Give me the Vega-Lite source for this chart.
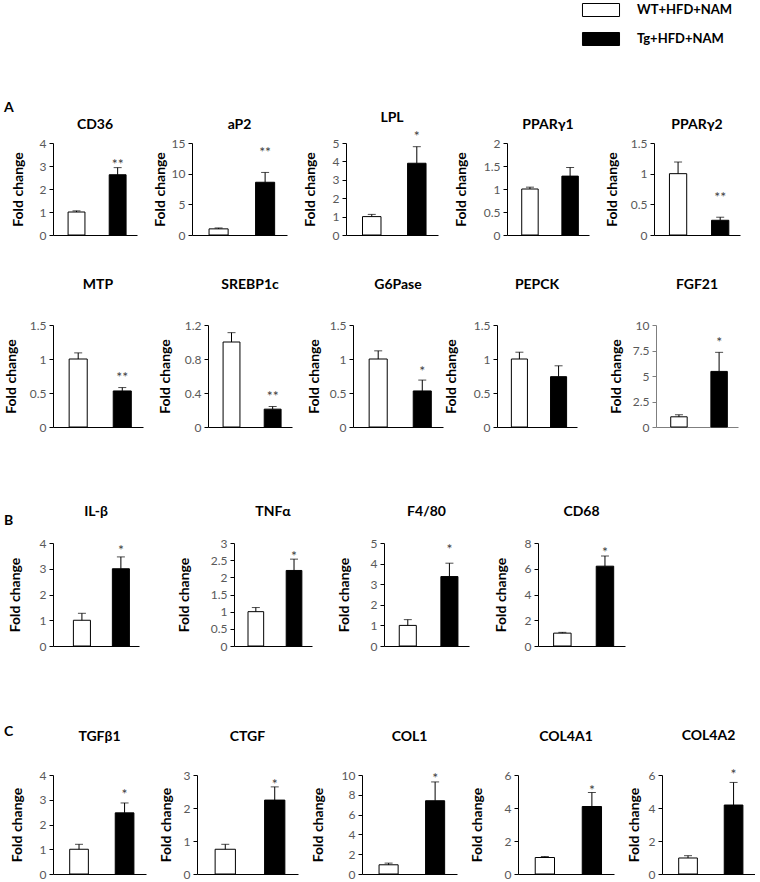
{
  "$schema": "https://vega.github.io/schema/vega-lite/v6.json",
  "background": "white",
  "padding": {"left": 3, "top": 3, "right": 0, "bottom": 0},
  "autosize": {"type": "pad"},
  "data": {"values": [
    {"p": "CD36", "g": "WT+HFD+NAM", "mean": 1.0, "upper": 1.05},
    {"p": "CD36", "g": "Tg+HFD+NAM", "mean": 2.62, "upper": 2.93, "star": "**", "star_y": 3.2},
    {"p": "aP2", "g": "WT+HFD+NAM", "mean": 1.0, "upper": 1.15},
    {"p": "aP2", "g": "Tg+HFD+NAM", "mean": 8.6, "upper": 10.2, "star": "**", "star_y": 14.0},
    {"p": "LPL", "g": "WT+HFD+NAM", "mean": 1.0, "upper": 1.12},
    {"p": "LPL", "g": "Tg+HFD+NAM", "mean": 3.9, "upper": 4.8, "star": "*", "star_y": 5.55},
    {"p": "PPARγ1", "g": "WT+HFD+NAM", "mean": 1.0, "upper": 1.04},
    {"p": "PPARγ1", "g": "Tg+HFD+NAM", "mean": 1.28, "upper": 1.47},
    {"p": "PPARγ2", "g": "WT+HFD+NAM", "mean": 1.0, "upper": 1.19},
    {"p": "PPARγ2", "g": "Tg+HFD+NAM", "mean": 0.24, "upper": 0.29, "star": "**", "star_y": 0.67},
    {"p": "MTP", "g": "WT+HFD+NAM", "mean": 1.0, "upper": 1.09},
    {"p": "MTP", "g": "Tg+HFD+NAM", "mean": 0.53, "upper": 0.58, "star": "**", "star_y": 0.78},
    {"p": "SREBP1c", "g": "WT+HFD+NAM", "mean": 1.0, "upper": 1.11},
    {"p": "SREBP1c", "g": "Tg+HFD+NAM", "mean": 0.21, "upper": 0.24, "star": "**", "star_y": 0.4},
    {"p": "G6Pase", "g": "WT+HFD+NAM", "mean": 1.0, "upper": 1.12},
    {"p": "G6Pase", "g": "Tg+HFD+NAM", "mean": 0.53, "upper": 0.69, "star": "*", "star_y": 0.87},
    {"p": "PEPCK", "g": "WT+HFD+NAM", "mean": 1.0, "upper": 1.1},
    {"p": "PEPCK", "g": "Tg+HFD+NAM", "mean": 0.74, "upper": 0.9},
    {"p": "FGF21", "g": "WT+HFD+NAM", "mean": 1.0, "upper": 1.2},
    {"p": "FGF21", "g": "Tg+HFD+NAM", "mean": 5.45, "upper": 7.32, "star": "*", "star_y": 8.67},
    {"p": "IL-β", "g": "WT+HFD+NAM", "mean": 1.0, "upper": 1.27},
    {"p": "IL-β", "g": "Tg+HFD+NAM", "mean": 3.0, "upper": 3.46, "star": "*", "star_y": 3.85},
    {"p": "TNFα", "g": "WT+HFD+NAM", "mean": 1.0, "upper": 1.12},
    {"p": "TNFα", "g": "Tg+HFD+NAM", "mean": 2.2, "upper": 2.53, "star": "*", "star_y": 2.72},
    {"p": "F4/80", "g": "WT+HFD+NAM", "mean": 1.0, "upper": 1.28},
    {"p": "F4/80", "g": "Tg+HFD+NAM", "mean": 3.37, "upper": 4.02, "star": "*", "star_y": 4.84},
    {"p": "CD68", "g": "WT+HFD+NAM", "mean": 1.0, "upper": 1.06},
    {"p": "CD68", "g": "Tg+HFD+NAM", "mean": 6.2, "upper": 6.99, "star": "*", "star_y": 7.5},
    {"p": "TGFβ1", "g": "WT+HFD+NAM", "mean": 1.0, "upper": 1.2},
    {"p": "TGFβ1", "g": "Tg+HFD+NAM", "mean": 2.47, "upper": 2.87, "star": "*", "star_y": 3.36},
    {"p": "CTGF", "g": "WT+HFD+NAM", "mean": 0.75, "upper": 0.9},
    {"p": "CTGF", "g": "Tg+HFD+NAM", "mean": 2.24, "upper": 2.64, "star": "*", "star_y": 2.81},
    {"p": "COL1", "g": "WT+HFD+NAM", "mean": 0.93, "upper": 1.1},
    {"p": "COL1", "g": "Tg+HFD+NAM", "mean": 7.4, "upper": 9.3, "star": "*", "star_y": 10.0},
    {"p": "COL4A1", "g": "WT+HFD+NAM", "mean": 1.0, "upper": 1.06},
    {"p": "COL4A1", "g": "Tg+HFD+NAM", "mean": 4.09, "upper": 4.94, "star": "*", "star_y": 5.3},
    {"p": "COL4A2", "g": "WT+HFD+NAM", "mean": 0.97, "upper": 1.11},
    {"p": "COL4A2", "g": "Tg+HFD+NAM", "mean": 4.18, "upper": 5.55, "star": "*", "star_y": 6.25}
  ]},
  "spacing": 72,
  "vconcat": [
    {
      "spacing": 37,
      "vconcat": [
        {
          "title": {"text": "A", "anchor": "start", "frame": "bounds", "offset": 2, "dx": -7, "dy": 6, "fontSize": 14},
          "spacing": 16,
          "hconcat": [
            {"width": 84, "height": 92, "title": {"text": "CD36", "offset": 5},
             "transform": [{"filter": {"field": "p", "equal": "CD36"}}],
             "encoding": {"x": {"field": "g", "type": "nominal", "sort": null, "scale": {"domain": ["WT+HFD+NAM", "Tg+HFD+NAM"], "paddingInner": 0.59, "paddingOuter": 0.316, "align": 0.58}, "axis": {"title": null, "labels": false, "ticks": false}}},
             "layer": [
               {"mark": {"type": "bar", "stroke": "black", "strokeWidth": 1}, "encoding": {"y": {"field": "mean", "type": "quantitative", "scale": {"domain": [0, 4]}, "axis": {"title": "Fold change", "values": [0, 1, 2, 3, 4], "tickCount": 20, "format": "~r", "labelOverlap": false, "titleX": -28}}, "color": {"field": "g", "type": "nominal", "title": null, "scale": {"domain": ["WT+HFD+NAM", "Tg+HFD+NAM"], "range": ["white", "black"]}}}},
               {"mark": {"type": "rule", "color": "black"}, "encoding": {"y": {"field": "mean", "type": "quantitative", "scale": {"domain": [0, 4]}}, "y2": {"field": "upper"}}},
               {"mark": {"type": "tick", "color": "black", "size": 8, "thickness": 1}, "encoding": {"y": {"field": "upper", "type": "quantitative", "scale": {"domain": [0, 4]}}}},
               {"transform": [{"filter": "datum.star"}], "mark": {"type": "text", "fontSize": 14, "color": "#404040", "dy": 4}, "encoding": {"y": {"field": "star_y", "type": "quantitative", "scale": {"domain": [0, 4]}}, "text": {"field": "star"}}}
             ]},
            {"width": 95, "height": 92, "title": {"text": "aP2", "offset": 5},
             "transform": [{"filter": {"field": "p", "equal": "aP2"}}],
             "encoding": {"x": {"field": "g", "type": "nominal", "sort": null, "scale": {"domain": ["WT+HFD+NAM", "Tg+HFD+NAM"], "paddingInner": 0.59, "paddingOuter": 0.316, "align": 0.58}, "axis": {"title": null, "labels": false, "ticks": false}}},
             "layer": [
               {"mark": {"type": "bar", "stroke": "black", "strokeWidth": 1}, "encoding": {"y": {"field": "mean", "type": "quantitative", "scale": {"domain": [0, 15]}, "axis": {"title": "Fold change", "values": [0, 5, 10, 15], "tickCount": 20, "format": "~r", "labelOverlap": false, "titleX": -25}}, "color": {"field": "g", "type": "nominal", "title": null, "scale": {"domain": ["WT+HFD+NAM", "Tg+HFD+NAM"], "range": ["white", "black"]}}}},
               {"mark": {"type": "rule", "color": "black"}, "encoding": {"y": {"field": "mean", "type": "quantitative", "scale": {"domain": [0, 15]}}, "y2": {"field": "upper"}}},
               {"mark": {"type": "tick", "color": "black", "size": 8, "thickness": 1}, "encoding": {"y": {"field": "upper", "type": "quantitative", "scale": {"domain": [0, 15]}}}},
               {"transform": [{"filter": "datum.star"}], "mark": {"type": "text", "fontSize": 14, "color": "#404040", "dy": 4}, "encoding": {"y": {"field": "star_y", "type": "quantitative", "scale": {"domain": [0, 15]}}, "text": {"field": "star"}}}
             ]},
            {"width": 92, "height": 92, "title": {"text": "LPL", "offset": 5},
             "transform": [{"filter": {"field": "p", "equal": "LPL"}}],
             "encoding": {"x": {"field": "g", "type": "nominal", "sort": null, "scale": {"domain": ["WT+HFD+NAM", "Tg+HFD+NAM"], "paddingInner": 0.59, "paddingOuter": 0.316, "align": 0.58}, "axis": {"title": null, "labels": false, "ticks": false}}},
             "layer": [
               {"mark": {"type": "bar", "stroke": "black", "strokeWidth": 1}, "encoding": {"y": {"field": "mean", "type": "quantitative", "scale": {"domain": [0, 5]}, "axis": {"title": "Fold change", "values": [0, 1, 2, 3, 4, 5], "tickCount": 20, "format": "~r", "labelOverlap": false, "titleX": -29}}, "color": {"field": "g", "type": "nominal", "title": null, "scale": {"domain": ["WT+HFD+NAM", "Tg+HFD+NAM"], "range": ["white", "black"]}}}},
               {"mark": {"type": "rule", "color": "black"}, "encoding": {"y": {"field": "mean", "type": "quantitative", "scale": {"domain": [0, 5]}}, "y2": {"field": "upper"}}},
               {"mark": {"type": "tick", "color": "black", "size": 8, "thickness": 1}, "encoding": {"y": {"field": "upper", "type": "quantitative", "scale": {"domain": [0, 5]}}}},
               {"transform": [{"filter": "datum.star"}], "mark": {"type": "text", "fontSize": 14, "color": "#404040", "dy": 4}, "encoding": {"y": {"field": "star_y", "type": "quantitative", "scale": {"domain": [0, 5]}}, "text": {"field": "star"}}}
             ]},
            {"width": 82, "height": 92, "title": {"text": "PPARγ1", "offset": 5},
             "transform": [{"filter": {"field": "p", "equal": "PPARγ1"}}],
             "encoding": {"x": {"field": "g", "type": "nominal", "sort": null, "scale": {"domain": ["WT+HFD+NAM", "Tg+HFD+NAM"], "paddingInner": 0.59, "paddingOuter": 0.316, "align": 0.58}, "axis": {"title": null, "labels": false, "ticks": false}}},
             "layer": [
               {"mark": {"type": "bar", "stroke": "black", "strokeWidth": 1}, "encoding": {"y": {"field": "mean", "type": "quantitative", "scale": {"domain": [0, 2]}, "axis": {"title": "Fold change", "values": [0, 0.5, 1, 1.5, 2], "tickCount": 20, "format": "~r", "labelOverlap": false, "titleX": -39}}, "color": {"field": "g", "type": "nominal", "title": null, "scale": {"domain": ["WT+HFD+NAM", "Tg+HFD+NAM"], "range": ["white", "black"]}}}},
               {"mark": {"type": "rule", "color": "black"}, "encoding": {"y": {"field": "mean", "type": "quantitative", "scale": {"domain": [0, 2]}}, "y2": {"field": "upper"}}},
               {"mark": {"type": "tick", "color": "black", "size": 8, "thickness": 1}, "encoding": {"y": {"field": "upper", "type": "quantitative", "scale": {"domain": [0, 2]}}}}
             ]},
            {"width": 86, "height": 92, "title": {"text": "PPARγ2", "offset": 5},
             "transform": [{"filter": {"field": "p", "equal": "PPARγ2"}}],
             "encoding": {"x": {"field": "g", "type": "nominal", "sort": null, "scale": {"domain": ["WT+HFD+NAM", "Tg+HFD+NAM"], "paddingInner": 0.59, "paddingOuter": 0.316, "align": 0.58}, "axis": {"title": null, "labels": false, "ticks": false}}},
             "layer": [
               {"mark": {"type": "bar", "stroke": "black", "strokeWidth": 1}, "encoding": {"y": {"field": "mean", "type": "quantitative", "scale": {"domain": [0, 1.5]}, "axis": {"title": "Fold change", "values": [0, 0.5, 1, 1.5], "tickCount": 20, "format": "~r", "labelOverlap": false, "titleX": -35}}, "color": {"field": "g", "type": "nominal", "title": null, "scale": {"domain": ["WT+HFD+NAM", "Tg+HFD+NAM"], "range": ["white", "black"]}}}},
               {"mark": {"type": "rule", "color": "black"}, "encoding": {"y": {"field": "mean", "type": "quantitative", "scale": {"domain": [0, 1.5]}}, "y2": {"field": "upper"}}},
               {"mark": {"type": "tick", "color": "black", "size": 8, "thickness": 1}, "encoding": {"y": {"field": "upper", "type": "quantitative", "scale": {"domain": [0, 1.5]}}}},
               {"transform": [{"filter": "datum.star"}], "mark": {"type": "text", "fontSize": 14, "color": "#404040", "dy": 4}, "encoding": {"y": {"field": "star_y", "type": "quantitative", "scale": {"domain": [0, 1.5]}}, "text": {"field": "star"}}}
             ]}
          ]
        },
        {
          "spacing": 0,
          "hconcat": [
            {"spacing": 14, "hconcat": [
              {"width": 90, "height": 102, "title": {"text": "MTP", "offset": 27},
               "transform": [{"filter": {"field": "p", "equal": "MTP"}}],
               "encoding": {"x": {"field": "g", "type": "nominal", "sort": null, "scale": {"domain": ["WT+HFD+NAM", "Tg+HFD+NAM"], "paddingInner": 0.59, "paddingOuter": 0.316, "align": 0.58}, "axis": {"title": null, "labels": false, "ticks": false}}},
               "layer": [
                 {"mark": {"type": "bar", "stroke": "black", "strokeWidth": 1}, "encoding": {"y": {"field": "mean", "type": "quantitative", "scale": {"domain": [0, 1.5]}, "axis": {"title": "Fold change", "values": [0, 0.5, 1, 1.5], "tickCount": 20, "format": "~r", "labelOverlap": false, "titleX": -35}}, "color": {"field": "g", "type": "nominal", "title": null, "scale": {"domain": ["WT+HFD+NAM", "Tg+HFD+NAM"], "range": ["white", "black"]}}}},
                 {"mark": {"type": "rule", "color": "black"}, "encoding": {"y": {"field": "mean", "type": "quantitative", "scale": {"domain": [0, 1.5]}}, "y2": {"field": "upper"}}},
                 {"mark": {"type": "tick", "color": "black", "size": 8, "thickness": 1}, "encoding": {"y": {"field": "upper", "type": "quantitative", "scale": {"domain": [0, 1.5]}}}},
                 {"transform": [{"filter": "datum.star"}], "mark": {"type": "text", "fontSize": 14, "color": "#404040", "dy": 4}, "encoding": {"y": {"field": "star_y", "type": "quantitative", "scale": {"domain": [0, 1.5]}}, "text": {"field": "star"}}}
               ]},
              {"width": 84, "height": 102, "title": {"text": "SREBP1c", "offset": 27},
               "transform": [{"filter": {"field": "p", "equal": "SREBP1c"}}],
               "encoding": {"x": {"field": "g", "type": "nominal", "sort": null, "scale": {"domain": ["WT+HFD+NAM", "Tg+HFD+NAM"], "paddingInner": 0.59, "paddingOuter": 0.316, "align": 0.58}, "axis": {"title": null, "labels": false, "ticks": false}}},
               "layer": [
                 {"mark": {"type": "bar", "stroke": "black", "strokeWidth": 1}, "encoding": {"y": {"field": "mean", "type": "quantitative", "scale": {"domain": [0, 1.2]}, "axis": {"title": "Fold change", "values": [0, 0.4, 0.8, 1.2], "tickCount": 20, "format": "~r", "labelOverlap": false, "titleX": -36}}, "color": {"field": "g", "type": "nominal", "title": null, "scale": {"domain": ["WT+HFD+NAM", "Tg+HFD+NAM"], "range": ["white", "black"]}}}},
                 {"mark": {"type": "rule", "color": "black"}, "encoding": {"y": {"field": "mean", "type": "quantitative", "scale": {"domain": [0, 1.2]}}, "y2": {"field": "upper"}}},
                 {"mark": {"type": "tick", "color": "black", "size": 8, "thickness": 1}, "encoding": {"y": {"field": "upper", "type": "quantitative", "scale": {"domain": [0, 1.2]}}}},
                 {"transform": [{"filter": "datum.star"}], "mark": {"type": "text", "fontSize": 14, "color": "#404040", "dy": 4}, "encoding": {"y": {"field": "star_y", "type": "quantitative", "scale": {"domain": [0, 1.2]}}, "text": {"field": "star"}}}
               ]},
              {"width": 90, "height": 102, "title": {"text": "G6Pase", "offset": 27},
               "transform": [{"filter": {"field": "p", "equal": "G6Pase"}}],
               "encoding": {"x": {"field": "g", "type": "nominal", "sort": null, "scale": {"domain": ["WT+HFD+NAM", "Tg+HFD+NAM"], "paddingInner": 0.59, "paddingOuter": 0.316, "align": 0.58}, "axis": {"title": null, "labels": false, "ticks": false}}},
               "layer": [
                 {"mark": {"type": "bar", "stroke": "black", "strokeWidth": 1}, "encoding": {"y": {"field": "mean", "type": "quantitative", "scale": {"domain": [0, 1.5]}, "axis": {"title": "Fold change", "values": [0, 0.5, 1, 1.5], "tickCount": 20, "format": "~r", "labelOverlap": false, "titleX": -32}}, "color": {"field": "g", "type": "nominal", "title": null, "scale": {"domain": ["WT+HFD+NAM", "Tg+HFD+NAM"], "range": ["white", "black"]}}}},
                 {"mark": {"type": "rule", "color": "black"}, "encoding": {"y": {"field": "mean", "type": "quantitative", "scale": {"domain": [0, 1.5]}}, "y2": {"field": "upper"}}},
                 {"mark": {"type": "tick", "color": "black", "size": 8, "thickness": 1}, "encoding": {"y": {"field": "upper", "type": "quantitative", "scale": {"domain": [0, 1.5]}}}},
                 {"transform": [{"filter": "datum.star"}], "mark": {"type": "text", "fontSize": 14, "color": "#404040", "dy": 4}, "encoding": {"y": {"field": "star_y", "type": "quantitative", "scale": {"domain": [0, 1.5]}}, "text": {"field": "star"}}}
               ]}
            ]},
            {"spacing": 31, "hconcat": [
              {"width": 80, "height": 102, "title": {"text": "PEPCK", "offset": 27},
               "transform": [{"filter": {"field": "p", "equal": "PEPCK"}}],
               "encoding": {"x": {"field": "g", "type": "nominal", "sort": null, "scale": {"domain": ["WT+HFD+NAM", "Tg+HFD+NAM"], "paddingInner": 0.59, "paddingOuter": 0.316, "align": 0.58}, "axis": {"title": null, "labels": false, "ticks": false}}},
               "layer": [
                 {"mark": {"type": "bar", "stroke": "black", "strokeWidth": 1}, "encoding": {"y": {"field": "mean", "type": "quantitative", "scale": {"domain": [0, 1.5]}, "axis": {"title": "Fold change", "values": [0, 0.5, 1, 1.5], "tickCount": 20, "format": "~r", "labelOverlap": false, "titleX": -39}}, "color": {"field": "g", "type": "nominal", "title": null, "scale": {"domain": ["WT+HFD+NAM", "Tg+HFD+NAM"], "range": ["white", "black"]}}}},
                 {"mark": {"type": "rule", "color": "black"}, "encoding": {"y": {"field": "mean", "type": "quantitative", "scale": {"domain": [0, 1.5]}}, "y2": {"field": "upper"}}},
                 {"mark": {"type": "tick", "color": "black", "size": 8, "thickness": 1}, "encoding": {"y": {"field": "upper", "type": "quantitative", "scale": {"domain": [0, 1.5]}}}}
               ]},
              {"width": 82, "height": 102, "title": {"text": "FGF21", "offset": 27},
               "transform": [{"filter": {"field": "p", "equal": "FGF21"}}],
               "encoding": {"x": {"field": "g", "type": "nominal", "sort": null, "scale": {"domain": ["WT+HFD+NAM", "Tg+HFD+NAM"], "paddingInner": 0.59, "paddingOuter": 0.316, "align": 0.58}, "axis": {"title": null, "labels": false, "ticks": false, "domainColor": "#7f7f7f"}}},
               "layer": [
                 {"mark": {"type": "bar", "stroke": "black", "strokeWidth": 1}, "encoding": {"y": {"field": "mean", "type": "quantitative", "scale": {"domain": [0, 10]}, "axis": {"title": "Fold change", "values": [0, 2.5, 5, 7.5, 10], "tickCount": 20, "format": "~r", "labelOverlap": false, "titleX": -33, "domainColor": "#7f7f7f", "tickColor": "#7f7f7f"}}, "color": {"field": "g", "type": "nominal", "title": null, "scale": {"domain": ["WT+HFD+NAM", "Tg+HFD+NAM"], "range": ["white", "black"]}}}},
                 {"mark": {"type": "rule", "color": "black"}, "encoding": {"y": {"field": "mean", "type": "quantitative", "scale": {"domain": [0, 10]}}, "y2": {"field": "upper"}}},
                 {"mark": {"type": "tick", "color": "black", "size": 8, "thickness": 1}, "encoding": {"y": {"field": "upper", "type": "quantitative", "scale": {"domain": [0, 10]}}}},
                 {"transform": [{"filter": "datum.star"}], "mark": {"type": "text", "fontSize": 14, "color": "#404040", "dy": 4}, "encoding": {"y": {"field": "star_y", "type": "quantitative", "scale": {"domain": [0, 10]}}, "text": {"field": "star"}}}
               ]}
            ]}
          ]
        }
      ]
    },
    {
      "spacing": 72,
      "vconcat": [
        {
          "title": {"text": "B", "anchor": "start", "frame": "bounds", "offset": 0, "dx": -4, "dy": 23, "fontSize": 14},
          "spacing": 37,
          "hconcat": [
            {"width": 86, "height": 103, "title": {"text": "IL-β", "offset": 18},
             "transform": [{"filter": {"field": "p", "equal": "IL-β"}}],
             "encoding": {"x": {"field": "g", "type": "nominal", "sort": null, "scale": {"domain": ["WT+HFD+NAM", "Tg+HFD+NAM"], "paddingInner": 0.563, "paddingOuter": 0.385, "align": 0.68}, "axis": {"title": null, "labels": false, "ticks": false}}},
             "layer": [
               {"mark": {"type": "bar", "stroke": "black", "strokeWidth": 1}, "encoding": {"y": {"field": "mean", "type": "quantitative", "scale": {"domain": [0, 4]}, "axis": {"title": "Fold change", "values": [0, 1, 2, 3, 4], "tickCount": 20, "format": "~r", "labelOverlap": false, "titleX": -31}}, "color": {"field": "g", "type": "nominal", "title": null, "scale": {"domain": ["WT+HFD+NAM", "Tg+HFD+NAM"], "range": ["white", "black"]}}}},
               {"mark": {"type": "rule", "color": "black"}, "encoding": {"y": {"field": "mean", "type": "quantitative", "scale": {"domain": [0, 4]}}, "y2": {"field": "upper"}}},
               {"mark": {"type": "tick", "color": "black", "size": 8, "thickness": 1}, "encoding": {"y": {"field": "upper", "type": "quantitative", "scale": {"domain": [0, 4]}}}},
               {"transform": [{"filter": "datum.star"}], "mark": {"type": "text", "fontSize": 14, "color": "#404040", "dy": 4}, "encoding": {"y": {"field": "star_y", "type": "quantitative", "scale": {"domain": [0, 4]}}, "text": {"field": "star"}}}
             ]},
            {"spacing": 24, "hconcat": [
              {"width": 78, "height": 103, "title": {"text": "TNFα", "offset": 18},
               "transform": [{"filter": {"field": "p", "equal": "TNFα"}}],
               "encoding": {"x": {"field": "g", "type": "nominal", "sort": null, "scale": {"domain": ["WT+HFD+NAM", "Tg+HFD+NAM"], "paddingInner": 0.59, "paddingOuter": 0.316, "align": 0.58}, "axis": {"title": null, "labels": false, "ticks": false}}},
               "layer": [
                 {"mark": {"type": "bar", "stroke": "black", "strokeWidth": 1}, "encoding": {"y": {"field": "mean", "type": "quantitative", "scale": {"domain": [0, 3]}, "axis": {"title": "Fold change", "values": [0, 0.5, 1, 1.5, 2, 2.5, 3], "tickCount": 20, "format": "~r", "labelOverlap": false, "titleX": -43}}, "color": {"field": "g", "type": "nominal", "title": null, "scale": {"domain": ["WT+HFD+NAM", "Tg+HFD+NAM"], "range": ["white", "black"]}}}},
                 {"mark": {"type": "rule", "color": "black"}, "encoding": {"y": {"field": "mean", "type": "quantitative", "scale": {"domain": [0, 3]}}, "y2": {"field": "upper"}}},
                 {"mark": {"type": "tick", "color": "black", "size": 8, "thickness": 1}, "encoding": {"y": {"field": "upper", "type": "quantitative", "scale": {"domain": [0, 3]}}}},
                 {"transform": [{"filter": "datum.star"}], "mark": {"type": "text", "fontSize": 14, "color": "#404040", "dy": 4}, "encoding": {"y": {"field": "star_y", "type": "quantitative", "scale": {"domain": [0, 3]}}, "text": {"field": "star"}}}
               ]},
              {"width": 85, "height": 103, "title": {"text": "F4/80", "offset": 18},
               "transform": [{"filter": {"field": "p", "equal": "F4/80"}}],
               "encoding": {"x": {"field": "g", "type": "nominal", "sort": null, "scale": {"domain": ["WT+HFD+NAM", "Tg+HFD+NAM"], "paddingInner": 0.59, "paddingOuter": 0.316, "align": 0.58}, "axis": {"title": null, "labels": false, "ticks": false}}},
               "layer": [
                 {"mark": {"type": "bar", "stroke": "black", "strokeWidth": 1}, "encoding": {"y": {"field": "mean", "type": "quantitative", "scale": {"domain": [0, 5]}, "axis": {"title": "Fold change", "values": [0, 1, 2, 3, 4, 5], "tickCount": 20, "format": "~r", "labelOverlap": false, "titleX": -33}}, "color": {"field": "g", "type": "nominal", "title": null, "scale": {"domain": ["WT+HFD+NAM", "Tg+HFD+NAM"], "range": ["white", "black"]}}}},
                 {"mark": {"type": "rule", "color": "black"}, "encoding": {"y": {"field": "mean", "type": "quantitative", "scale": {"domain": [0, 5]}}, "y2": {"field": "upper"}}},
                 {"mark": {"type": "tick", "color": "black", "size": 8, "thickness": 1}, "encoding": {"y": {"field": "upper", "type": "quantitative", "scale": {"domain": [0, 5]}}}},
                 {"transform": [{"filter": "datum.star"}], "mark": {"type": "text", "fontSize": 14, "color": "#404040", "dy": 4}, "encoding": {"y": {"field": "star_y", "type": "quantitative", "scale": {"domain": [0, 5]}}, "text": {"field": "star"}}}
               ]},
              {"width": 87, "height": 103, "title": {"text": "CD68", "offset": 18},
               "transform": [{"filter": {"field": "p", "equal": "CD68"}}],
               "encoding": {"x": {"field": "g", "type": "nominal", "sort": null, "scale": {"domain": ["WT+HFD+NAM", "Tg+HFD+NAM"], "paddingInner": 0.59, "paddingOuter": 0.316, "align": 0.58}, "axis": {"title": null, "labels": false, "ticks": false}}},
               "layer": [
                 {"mark": {"type": "bar", "stroke": "black", "strokeWidth": 1}, "encoding": {"y": {"field": "mean", "type": "quantitative", "scale": {"domain": [0, 8]}, "axis": {"title": "Fold change", "values": [0, 2, 4, 6, 8], "tickCount": 20, "format": "~r", "labelOverlap": false, "titleX": -30}}, "color": {"field": "g", "type": "nominal", "title": null, "scale": {"domain": ["WT+HFD+NAM", "Tg+HFD+NAM"], "range": ["white", "black"]}}}},
                 {"mark": {"type": "rule", "color": "black"}, "encoding": {"y": {"field": "mean", "type": "quantitative", "scale": {"domain": [0, 8]}}, "y2": {"field": "upper"}}},
                 {"mark": {"type": "tick", "color": "black", "size": 8, "thickness": 1}, "encoding": {"y": {"field": "upper", "type": "quantitative", "scale": {"domain": [0, 8]}}}},
                 {"transform": [{"filter": "datum.star"}], "mark": {"type": "text", "fontSize": 14, "color": "#404040", "dy": 4}, "encoding": {"y": {"field": "star_y", "type": "quantitative", "scale": {"domain": [0, 8]}}, "text": {"field": "star"}}}
               ]}
            ]}
          ]
        },
        {
          "title": {"text": "C", "anchor": "start", "frame": "bounds", "offset": 0, "dx": -6, "dy": 10, "fontSize": 14},
          "spacing": 12,
          "hconcat": [
            {"width": 93, "height": 99, "title": {"text": "TGFβ1", "offset": 25},
             "transform": [{"filter": {"field": "p", "equal": "TGFβ1"}}],
             "encoding": {"x": {"field": "g", "type": "nominal", "sort": null, "scale": {"domain": ["WT+HFD+NAM", "Tg+HFD+NAM"], "paddingInner": 0.59, "paddingOuter": 0.316, "align": 0.58}, "axis": {"title": null, "labels": false, "ticks": false}}},
             "layer": [
               {"mark": {"type": "bar", "stroke": "black", "strokeWidth": 1}, "encoding": {"y": {"field": "mean", "type": "quantitative", "scale": {"domain": [0, 4]}, "axis": {"title": "Fold change", "values": [0, 1, 2, 3, 4], "tickCount": 20, "format": "~r", "labelOverlap": false, "titleX": -29}}, "color": {"field": "g", "type": "nominal", "title": null, "scale": {"domain": ["WT+HFD+NAM", "Tg+HFD+NAM"], "range": ["white", "black"]}}}},
               {"mark": {"type": "rule", "color": "black"}, "encoding": {"y": {"field": "mean", "type": "quantitative", "scale": {"domain": [0, 4]}}, "y2": {"field": "upper"}}},
               {"mark": {"type": "tick", "color": "black", "size": 8, "thickness": 1}, "encoding": {"y": {"field": "upper", "type": "quantitative", "scale": {"domain": [0, 4]}}}},
               {"transform": [{"filter": "datum.star"}], "mark": {"type": "text", "fontSize": 14, "color": "#404040", "dy": 4}, "encoding": {"y": {"field": "star_y", "type": "quantitative", "scale": {"domain": [0, 4]}}, "text": {"field": "star"}}}
             ]},
            {"width": 101, "height": 99, "title": {"text": "CTGF", "offset": 25},
             "transform": [{"filter": {"field": "p", "equal": "CTGF"}}],
             "encoding": {"x": {"field": "g", "type": "nominal", "sort": null, "scale": {"domain": ["WT+HFD+NAM", "Tg+HFD+NAM"], "paddingInner": 0.59, "paddingOuter": 0.316, "align": 0.58}, "axis": {"title": null, "labels": false, "ticks": false}}},
             "layer": [
               {"mark": {"type": "bar", "stroke": "black", "strokeWidth": 1}, "encoding": {"y": {"field": "mean", "type": "quantitative", "scale": {"domain": [0, 3]}, "axis": {"title": "Fold change", "values": [0, 1, 2, 3], "tickCount": 20, "format": "~r", "labelOverlap": false, "titleX": -24}}, "color": {"field": "g", "type": "nominal", "title": null, "scale": {"domain": ["WT+HFD+NAM", "Tg+HFD+NAM"], "range": ["white", "black"]}}}},
               {"mark": {"type": "rule", "color": "black"}, "encoding": {"y": {"field": "mean", "type": "quantitative", "scale": {"domain": [0, 3]}}, "y2": {"field": "upper"}}},
               {"mark": {"type": "tick", "color": "black", "size": 8, "thickness": 1}, "encoding": {"y": {"field": "upper", "type": "quantitative", "scale": {"domain": [0, 3]}}}},
               {"transform": [{"filter": "datum.star"}], "mark": {"type": "text", "fontSize": 14, "color": "#404040", "dy": 4}, "encoding": {"y": {"field": "star_y", "type": "quantitative", "scale": {"domain": [0, 3]}}, "text": {"field": "star"}}}
             ]},
            {"width": 95, "height": 99, "title": {"text": "COL1", "offset": 25},
             "transform": [{"filter": {"field": "p", "equal": "COL1"}}],
             "encoding": {"x": {"field": "g", "type": "nominal", "sort": null, "scale": {"domain": ["WT+HFD+NAM", "Tg+HFD+NAM"], "paddingInner": 0.59, "paddingOuter": 0.316, "align": 0.58}, "axis": {"title": null, "labels": false, "ticks": false}}},
             "layer": [
               {"mark": {"type": "bar", "stroke": "black", "strokeWidth": 1}, "encoding": {"y": {"field": "mean", "type": "quantitative", "scale": {"domain": [0, 10]}, "axis": {"title": "Fold change", "values": [0, 2, 4, 6, 8, 10], "tickCount": 20, "format": "~r", "labelOverlap": false, "titleX": -37}}, "color": {"field": "g", "type": "nominal", "title": null, "scale": {"domain": ["WT+HFD+NAM", "Tg+HFD+NAM"], "range": ["white", "black"]}}}},
               {"mark": {"type": "rule", "color": "black"}, "encoding": {"y": {"field": "mean", "type": "quantitative", "scale": {"domain": [0, 10]}}, "y2": {"field": "upper"}}},
               {"mark": {"type": "tick", "color": "black", "size": 8, "thickness": 1}, "encoding": {"y": {"field": "upper", "type": "quantitative", "scale": {"domain": [0, 10]}}}},
               {"transform": [{"filter": "datum.star"}], "mark": {"type": "text", "fontSize": 14, "color": "#404040", "dy": 4}, "encoding": {"y": {"field": "star_y", "type": "quantitative", "scale": {"domain": [0, 10]}}, "text": {"field": "star"}}}
             ]},
            {"width": 96, "height": 99, "title": {"text": "COL4A1", "offset": 25},
             "transform": [{"filter": {"field": "p", "equal": "COL4A1"}}],
             "encoding": {"x": {"field": "g", "type": "nominal", "sort": null, "scale": {"domain": ["WT+HFD+NAM", "Tg+HFD+NAM"], "paddingInner": 0.59, "paddingOuter": 0.316, "align": 0.58}, "axis": {"title": null, "labels": false, "ticks": false}}},
             "layer": [
               {"mark": {"type": "bar", "stroke": "black", "strokeWidth": 1}, "encoding": {"y": {"field": "mean", "type": "quantitative", "scale": {"domain": [0, 6]}, "axis": {"title": "Fold change", "values": [0, 2, 4, 6], "tickCount": 20, "format": "~r", "labelOverlap": false, "titleX": -34}}, "color": {"field": "g", "type": "nominal", "title": null, "scale": {"domain": ["WT+HFD+NAM", "Tg+HFD+NAM"], "range": ["white", "black"]}}}},
               {"mark": {"type": "rule", "color": "black"}, "encoding": {"y": {"field": "mean", "type": "quantitative", "scale": {"domain": [0, 6]}}, "y2": {"field": "upper"}}},
               {"mark": {"type": "tick", "color": "black", "size": 8, "thickness": 1}, "encoding": {"y": {"field": "upper", "type": "quantitative", "scale": {"domain": [0, 6]}}}},
               {"transform": [{"filter": "datum.star"}], "mark": {"type": "text", "fontSize": 14, "color": "#404040", "dy": 4}, "encoding": {"y": {"field": "star_y", "type": "quantitative", "scale": {"domain": [0, 6]}}, "text": {"field": "star"}}}
             ]},
            {"width": 93, "height": 99, "title": {"text": "COL4A2", "offset": 25},
             "transform": [{"filter": {"field": "p", "equal": "COL4A2"}}],
             "encoding": {"x": {"field": "g", "type": "nominal", "sort": null, "scale": {"domain": ["WT+HFD+NAM", "Tg+HFD+NAM"], "paddingInner": 0.59, "paddingOuter": 0.316, "align": 0.58}, "axis": {"title": null, "labels": false, "ticks": false}}},
             "layer": [
               {"mark": {"type": "bar", "stroke": "black", "strokeWidth": 1}, "encoding": {"y": {"field": "mean", "type": "quantitative", "scale": {"domain": [0, 6]}, "axis": {"title": "Fold change", "values": [0, 2, 4, 6], "tickCount": 20, "format": "~r", "labelOverlap": false, "titleX": -21}}, "color": {"field": "g", "type": "nominal", "title": null, "scale": {"domain": ["WT+HFD+NAM", "Tg+HFD+NAM"], "range": ["white", "black"]}}}},
               {"mark": {"type": "rule", "color": "black"}, "encoding": {"y": {"field": "mean", "type": "quantitative", "scale": {"domain": [0, 6]}}, "y2": {"field": "upper"}}},
               {"mark": {"type": "tick", "color": "black", "size": 8, "thickness": 1}, "encoding": {"y": {"field": "upper", "type": "quantitative", "scale": {"domain": [0, 6]}}}},
               {"transform": [{"filter": "datum.star"}], "mark": {"type": "text", "fontSize": 14, "color": "#404040", "dy": 4}, "encoding": {"y": {"field": "star_y", "type": "quantitative", "scale": {"domain": [0, 6]}}, "text": {"field": "star"}}}
             ]}
          ]
        }
      ]
    }
  ],
  "config": {
    "font": "Lato",
    "view": {"stroke": null},
    "axisY": {"domainColor": "black", "tickColor": "black", "tickSize": 4, "labelColor": "#595959", "labelFontSize": 12, "labelPadding": 3, "labelOverlap": false, "titleFontSize": 14, "titleFontWeight": "bold", "titleColor": "black", "grid": false},
    "axisX": {"domainColor": "black", "grid": false},
    "title": {"fontSize": 14, "fontWeight": "bold", "color": "black", "anchor": "middle"},
    "legend": {"orient": "none", "legendX": 541, "legendY": -140, "symbolType": "M-2.85,-1H2.85V1H-2.85Z", "symbolSize": 169, "symbolStrokeColor": "black", "symbolStrokeWidth": 1, "labelFontSize": 13, "labelFontWeight": "bold", "labelColor": "black", "labelOffset": 29, "rowPadding": 11, "padding": 0}
  }
}
